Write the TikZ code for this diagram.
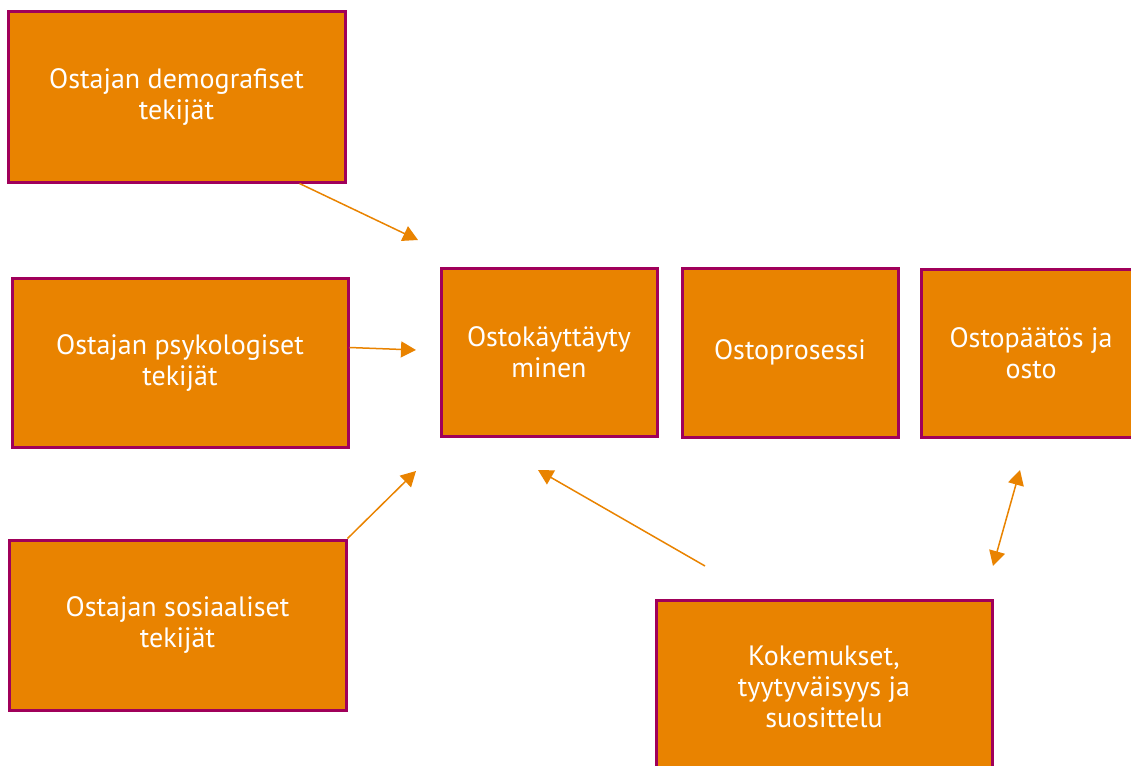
\documentclass[tikz,border=0pt]{standalone}
\usepackage{fontspec}
\setmainfont{PT Sans}
\usetikzlibrary{arrows.meta}
\definecolor{boxorange}{RGB}{233,131,0}
\definecolor{boxrim}{RGB}{160,0,90}
\tikzstyle{factor}=[draw=boxrim,fill=boxorange,line width=3pt,text=white,align=center,font=\fontsize{28}{31}\selectfont,inner sep=0pt]
\tikzstyle{link}=[color=boxorange,line width=1.5pt,-{Triangle[length=15pt,width=16pt]}]

\begin{document}
\begin{tikzpicture}[x=1pt,y=-1pt]
  \useasboundingbox (0,0) rectangle (1131,765);
  \clip (0,0) rectangle (1131,765);
  \foreach \place/\w/\h/\name/\txt in {{(176.5,97)/337/170/demo/{Ostajan demografiset\\tekijät}},
                            {(180,362.5)/336/169/psych/{Ostajan psykologiset\\tekijät}},
                            {(177.5,625)/337/170/social/{Ostajan sosiaaliset\\tekijät}},
                            {(549,352)/216/168/behav/{Ostokäyttäyty\\minen}},
                            {(790,352.5)/216/169/process/{Ostoprosessi}},
                            {(1031,353)/220/168/decision/{Ostopäätös ja\\osto}},
                            {(824,687)/336/174/feedback/{Kokemukset,\\tyytyväisyys ja\\suosittelu}}}
    \node[factor,minimum width=\w pt,minimum height=\h pt] (\name) at \place {\txt};
  % free ends of the arrows
  \coordinate (demo-out) at ([xshift=-47pt]demo.south east);
  \coordinate (demo-in) at (418,240);
  \coordinate (psych-out) at ([yshift=15pt]psych.east);
  \coordinate (psych-in) at (416,350);
  \coordinate (social-out) at (social.north east);
  \coordinate (social-in) at (416,471);
  \coordinate (feedback-out) at (705,566);
  \coordinate (behav-in) at (538,470);
  \coordinate (decision-in) at (1020,470);
  \coordinate (feedback-in) at (993,566);
  \foreach \source/\dest in {demo-out/demo-in,psych-out/psych-in,social-out/social-in,feedback-out/behav-in}
      \draw[link] (\source) -- (\dest);
  \draw[link,{Triangle[length=15pt,width=16pt]}-{Triangle[length=15pt,width=16pt]}] (decision-in) -- (feedback-in);
\end{tikzpicture}
\end{document}
